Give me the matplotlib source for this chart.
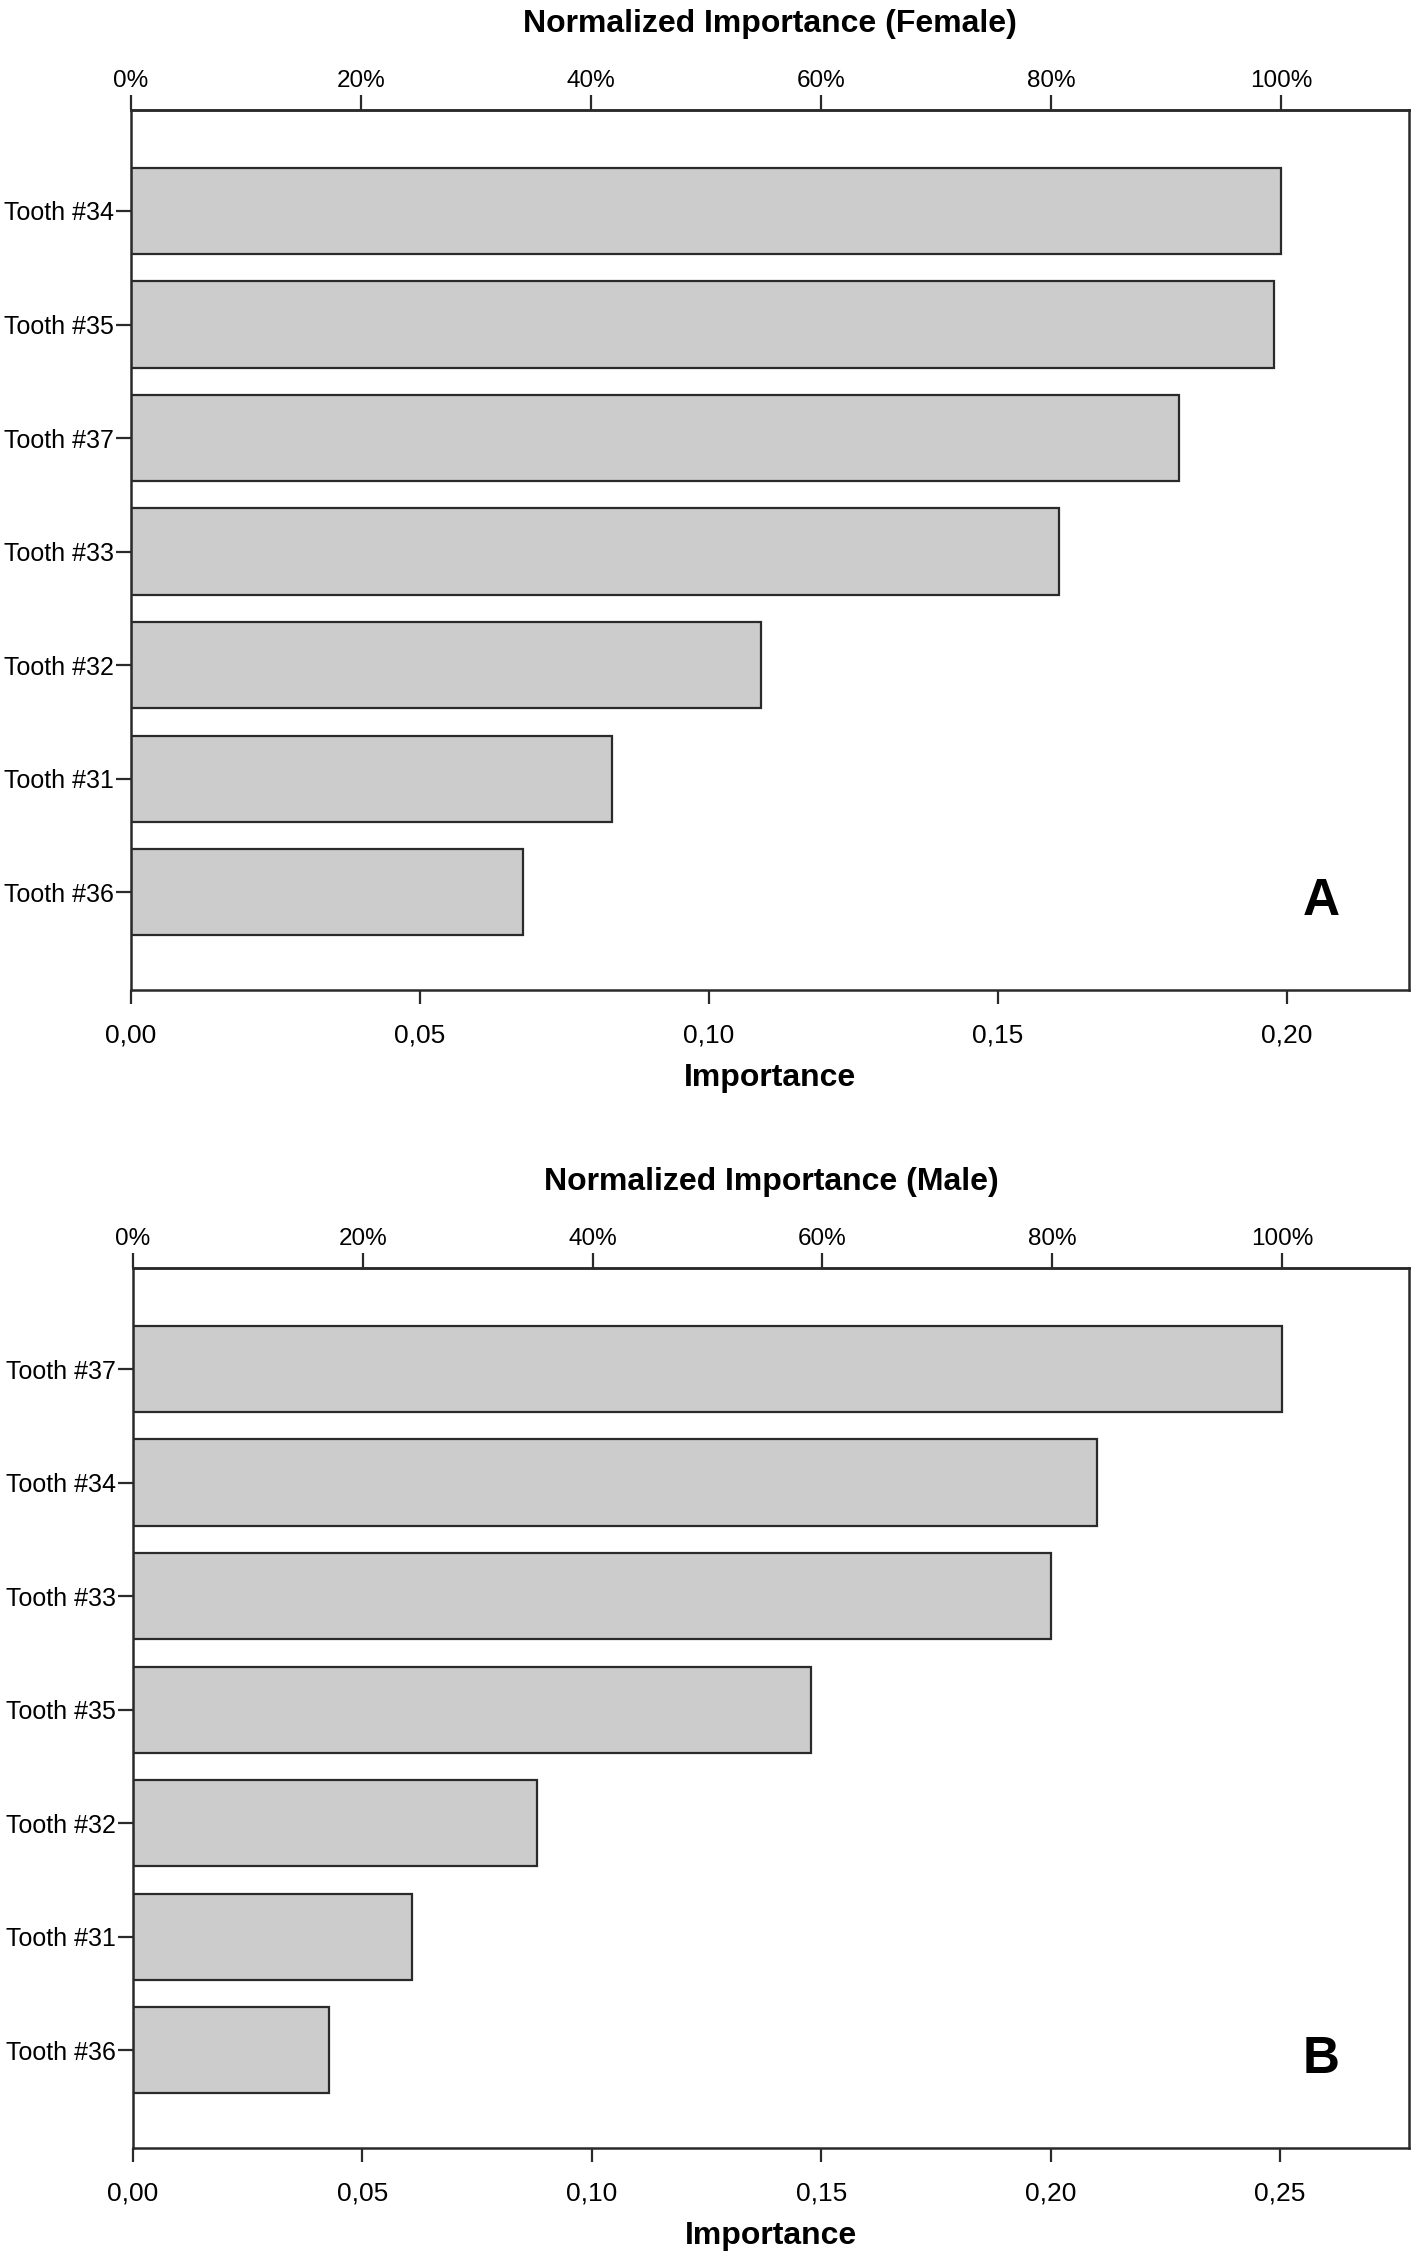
#!/usr/bin/env python3
"""
Normalized importance of each tooth (female / male), redrawn as two
SPSS-style horizontal bar charts stacked vertically.
"""

from matplotlib import pyplot as plt
from matplotlib.ticker import FuncFormatter, FixedLocator

plt.rcParams["font.family"] = ["Liberation Sans", "DejaVu Sans"]

FEMALE_TEETH = ["Tooth #34", "Tooth #35", "Tooth #37", "Tooth #33", "Tooth #32", "Tooth #31", "Tooth #36"]
FEMALE_IMPORTANCE = [0.1991, 0.1979, 0.1814, 0.1607, 0.1091, 0.0833, 0.0679]
FEMALE_XTICKS = [0.00, 0.05, 0.10, 0.15, 0.20]
FEMALE_XMAX = 0.2212

MALE_TEETH = ["Tooth #37", "Tooth #34", "Tooth #33", "Tooth #35", "Tooth #32", "Tooth #31", "Tooth #36"]
MALE_IMPORTANCE = [0.2504, 0.2101, 0.2001, 0.1478, 0.0881, 0.0608, 0.0428]
MALE_XTICKS = [0.00, 0.05, 0.10, 0.15, 0.20, 0.25]
MALE_XMAX = 0.2781

PCT_TICKS = [0, 20, 40, 60, 80, 100]

BAR_FILL = "#cccccc"
EDGE = "#2a2a2a"


def comma_fmt(x, _pos):
    return f"{x:.2f}".replace(".", ",")


def panel(ax, teeth, values, xticks, xmax, title, letter):
    """One importance panel with the normalized (%) scale on top"""
    ypos = list(range(len(teeth)))
    ax.barh(ypos, values, height=0.76, color=BAR_FILL, edgecolor=EDGE, linewidth=1.6)

    ax.set_xlim(0, xmax)
    ax.set_ylim(len(teeth) - 1 + 0.86, -0.89)
    ax.set_yticks(ypos)
    ax.set_yticklabels(teeth, fontsize=18)
    ax.tick_params(axis="y", length=11, width=1.6, pad=1, color=EDGE)

    ax.xaxis.set_major_locator(FixedLocator(xticks))
    ax.xaxis.set_major_formatter(FuncFormatter(comma_fmt))
    ax.tick_params(axis="x", length=10, width=1.6, pad=14, labelsize=19, color=EDGE)
    ax.set_xlabel("Importance", fontsize=23, fontweight="bold", labelpad=11)

    for side in ax.spines.values():
        side.set_linewidth(1.8)
        side.set_color(EDGE)

    # top axis: importance relative to the largest bar
    top = max(values)
    secax = ax.secondary_xaxis("top", functions=(lambda x: x / top * 100, lambda p: p * top / 100))
    secax.xaxis.set_major_locator(FixedLocator(PCT_TICKS))
    secax.xaxis.set_major_formatter(FuncFormatter(lambda p, _pos: f"{p:.0f}%"))
    secax.tick_params(axis="x", length=11, width=1.6, pad=2, labelsize=17.5, color=EDGE)
    secax.spines["top"].set_linewidth(1.8)
    secax.spines["top"].set_color(EDGE)
    secax.set_xlabel(title, fontsize=23, fontweight="bold", labelpad=27)

    ax.text(0.931, 0.100, letter, transform=ax.transAxes, fontsize=37, fontweight="bold",
            ha="center", va="center")


fig = plt.figure(figsize=(14.16, 22.57), dpi=100)
ax_a = fig.add_axes([0.0925, 0.5614, 0.9026, 0.3899])
ax_b = fig.add_axes([0.0939, 0.0483, 0.9012, 0.3899])

panel(ax_a, FEMALE_TEETH, FEMALE_IMPORTANCE, FEMALE_XTICKS, FEMALE_XMAX,
      "Normalized Importance (Female)", "A")
panel(ax_b, MALE_TEETH, MALE_IMPORTANCE, MALE_XTICKS, MALE_XMAX,
      "Normalized Importance (Male)", "B")

fig.savefig("out.png", dpi=100, facecolor="white")
